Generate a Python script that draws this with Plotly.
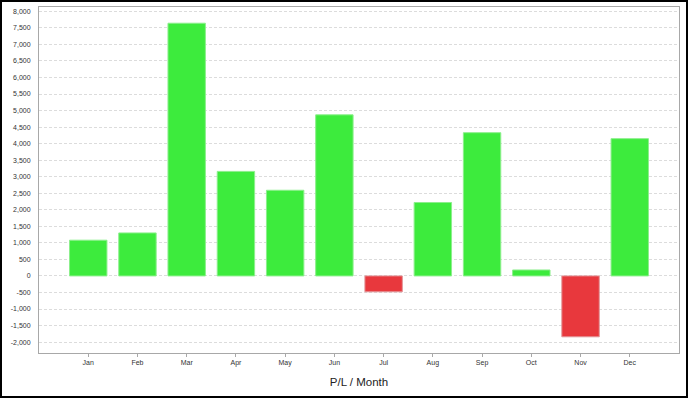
import plotly.graph_objects as go

months = ["Jan", "Feb", "Mar", "Apr", "May", "Jun", "Jul", "Aug", "Sep", "Oct", "Nov", "Dec"]
pl_values = [1080, 1300, 7640, 3160, 2590, 4870, -480, 2220, 4330, 180, -1840, 4150]
y_tick_vals = list(range(-2000, 8001, 500))
y_tick_text = [f"{v:,}" for v in y_tick_vals]
x_title = "P/L / Month"

pos_color, neg_color = "#3deb3d", "#e8383d"
pos_line, neg_line = "#8cef8c", "#e29396"

fill = [pos_color if v >= 0 else neg_color for v in pl_values]
edge = [pos_line if v >= 0 else neg_line for v in pl_values]

fig = go.Figure(go.Bar(
    x=months, y=pl_values, width=0.76,
    marker=dict(color=fill, line=dict(color=edge, width=1)),
))

W, H = 688, 398
ml, mr, mt, mb = 39, 9, 7, 45
pw, ph = W - ml - mr, H - mt - mb

fig.update_layout(
    template="none",
    width=W, height=H,
    margin=dict(l=ml, r=mr, t=mt, b=mb, pad=0, autoexpand=False),
    paper_bgcolor="white", plot_bgcolor="white",
    font=dict(family="Liberation Sans, Arial, sans-serif", color="#333333", size=7),
    showlegend=False, bargap=0.24,
    xaxis=dict(
        range=[-1, 12], showline=True, linecolor="#a8a8a8", linewidth=1, mirror=True,
        ticks="outside", ticklen=3, tickcolor="#a8a8a8", showgrid=False, automargin=False,
        tickfont=dict(size=7, color="#333333"),
        title=dict(text=x_title, font=dict(size=11.5, color="#222222"), standoff=11),
    ),
    yaxis=dict(
        range=[-2330, 8130], tickvals=y_tick_vals, ticktext=y_tick_text, automargin=False,
        showline=True, linecolor="#a8a8a8", linewidth=1, mirror=True,
        showgrid=True, gridcolor="#dcdcdc", gridwidth=1, griddash="3px,2px",
        zeroline=False, ticks="", ticklabelstandoff=6,
        tickfont=dict(size=7, color="#333333"),
    ),
    shapes=[dict(
        type="rect", xref="paper", yref="paper",
        x0=-(ml - 1) / pw, x1=1 + (mr - 1) / pw,
        y0=-(mb - 1) / ph, y1=1 + (mt - 1) / ph,
        line=dict(color="black", width=2), layer="above",
    )],
)

fig.write_html(
    "out.html",
    config={"displayModeBar": False},
    post_script="document.body.style.margin='0';document.body.style.overflow='hidden';",
)
